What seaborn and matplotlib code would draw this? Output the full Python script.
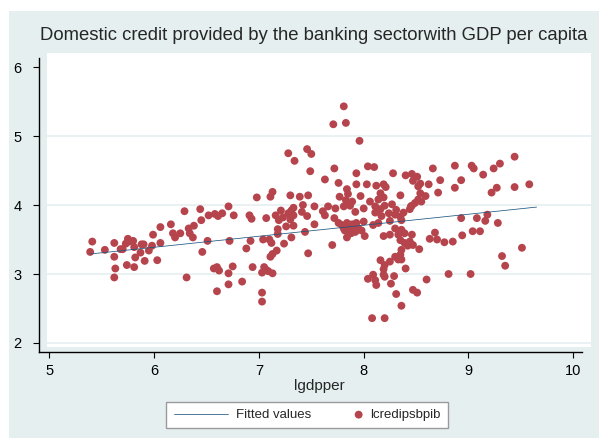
import numpy as np
import pandas as pd
import matplotlib
matplotlib.use("Agg")
import matplotlib.pyplot as plt
from matplotlib.patches import Rectangle
from matplotlib.collections import PathCollection
from matplotlib.legend_handler import HandlerPathCollection
import seaborn as sns

# === Data ===
lgdpper = [
    5.39, 5.41, 5.53, 5.62, 5.62, 5.63, 5.62, 5.68, 5.70, 5.73, 5.75, 5.76, 5.80, 5.81, 5.82, 5.81,
    5.74, 5.87, 5.88, 5.90, 5.91, 5.95, 5.98, 5.99, 6.03, 6.06, 6.06, 6.16, 6.18, 6.20, 6.25, 6.29,
    6.31, 6.33, 6.34, 6.37, 6.38, 6.44, 6.45, 6.46, 6.51, 6.52, 6.58, 6.61, 6.65, 6.57, 6.60, 6.62,
    6.60, 6.71, 6.72, 6.71, 6.71, 6.75, 6.76, 6.84, 6.88, 6.91, 6.92, 6.93, 6.94, 6.98, 7.03, 7.03,
    7.03, 7.05, 7.07, 7.09, 7.13, 7.04, 7.07, 7.10, 7.12, 7.13, 7.11, 7.17, 7.11, 7.13, 7.16, 7.18,
    7.18, 7.19, 7.21, 7.23, 7.24, 7.26, 7.28, 7.30, 7.31, 7.33, 7.33, 7.33, 7.31, 7.28, 7.34, 7.30,
    # middle block
    7.39, 7.47, 7.46, 7.50, 7.49, 7.42, 7.53, 7.41, 7.46, 7.44, 7.53, 7.47, 7.63, 7.61, 7.63, 7.66,
    7.71, 7.81, 7.83, 7.96,
    # right block
    8.87, 8.87, 8.93, 9.03, 9.05, 9.14, 9.24, 9.30, 9.22, 9.27, 9.44, 9.44, 9.58, 8.77, 8.85, 8.81,
    8.94, 9.02, 9.04, 9.11, 8.93, 9.08, 9.16, 9.18, 9.28, 9.32, 9.35, 9.51,
    # dense cluster
    7.72, 8.04, 8.10, 7.93, 8.28, 8.40, 8.46, 8.51, 8.66, 8.73, 7.76, 7.93, 8.03, 8.12, 8.19, 8.21,
    8.47, 8.54, 8.62, 8.52, 7.84, 7.85, 7.97, 8.16, 8.35, 8.54, 8.59, 8.71, 7.77, 7.83, 7.89, 8.06,
    8.14, 8.19, 8.27, 8.52, 8.49, 8.46, 8.44, 8.55, 7.73, 7.81, 7.87, 8.00, 8.11, 8.16, 8.20, 8.31,
    8.38, 8.45, 7.92, 8.11, 8.17, 8.24, 8.35, 8.30, 7.72, 7.76, 7.79, 7.84, 7.89, 7.93, 8.00, 8.09,
    8.14, 8.25, 8.36, 7.81, 7.85, 7.90, 7.95, 7.98, 7.92, 7.88, 7.82, 7.84, 8.01, 8.19, 8.25, 8.30,
    8.36, 8.39, 8.46, 8.33, 7.70, 8.35, 8.39, 8.44, 8.42, 8.47, 8.53, 8.63, 8.68, 8.70, 8.36, 8.35,
    8.33, 8.30, 8.16, 8.25, 8.20, 8.36, 8.19, 8.19, 8.40, 8.09, 8.04, 8.11, 8.12, 8.20, 8.29, 8.26,
    8.60, 8.47, 8.51, 8.31, 8.36, 8.08, 8.20,
]
lcredipsbpib = [
    3.32, 3.47, 3.35, 3.45, 3.25, 3.08, 2.95, 3.36, 3.36, 3.44, 3.51, 3.47, 3.48, 3.39, 3.24, 3.10,
    3.13, 3.31, 3.43, 3.43, 3.19, 3.34, 3.41, 3.57, 3.20, 3.45, 3.68, 3.72, 3.59, 3.53, 3.59, 3.91,
    2.95, 3.66, 3.59, 3.53, 3.70, 3.94, 3.78, 3.32, 3.48, 3.85, 3.87, 3.84, 3.88, 3.08, 3.10, 3.05,
    2.75, 3.98, 3.48, 3.01, 2.85, 3.11, 3.85, 2.89, 3.37, 3.85, 3.48, 3.80, 3.10, 4.11, 2.73, 2.60,
    3.02, 3.10, 3.06, 3.04, 3.01, 3.50, 3.81, 3.50, 3.45, 3.29, 3.25, 3.34, 4.12, 4.19, 3.85, 3.65,
    3.58, 3.78, 3.92, 3.82, 3.44, 3.69, 3.88, 3.79, 3.92, 3.85, 3.96, 3.70, 3.53, 4.75, 4.64, 4.14,
    # middle block
    4.12, 4.14, 4.81, 4.74, 4.49, 4.00, 3.98, 3.90, 3.84, 3.61, 3.72, 3.30, 4.37, 3.91, 3.85, 3.98,
    5.17, 5.43, 5.19, 4.93,
    # right block
    4.57, 4.25, 4.36, 4.57, 4.53, 4.44, 4.53, 4.60, 4.18, 4.25, 4.70, 4.26, 4.30, 3.46, 3.47, 3.00,
    3.56, 3.00, 3.62, 3.62, 3.81, 3.81, 3.77, 3.86, 3.74, 3.26, 3.12, 3.38,
    # dense cluster
    4.53, 4.56, 4.55, 4.46, 4.46, 4.43, 4.45, 4.41, 4.53, 4.36, 4.32, 4.30, 4.30, 4.28, 4.30, 4.26,
    4.35, 4.31, 4.30, 4.27, 4.23, 4.16, 4.13, 4.17, 4.14, 4.17, 4.13, 4.18, 4.12, 4.07, 4.05, 4.05,
    4.08, 4.11, 4.01, 4.08, 4.03, 3.99, 3.94, 4.05, 3.95, 3.98, 3.99, 3.95, 3.98, 3.94, 3.99, 3.93,
    3.89, 3.98, 3.90, 3.89, 3.84, 3.88, 3.83, 3.86, 3.81, 3.74, 3.71, 3.74, 3.72, 3.74, 3.76, 3.71,
    3.74, 3.77, 3.78, 3.66, 3.64, 3.69, 3.66, 3.63, 3.61, 3.59, 3.63, 3.53, 3.55, 3.55, 3.57, 3.66,
    3.64, 3.59, 3.57, 3.57, 3.42, 3.49, 3.45, 3.47, 3.41, 3.42, 3.36, 3.51, 3.60, 3.50, 3.35, 3.28,
    3.21, 3.25, 3.20, 3.18, 3.13, 3.21, 3.07, 2.99, 3.08, 2.99, 2.93, 2.91, 2.84, 2.96, 2.97, 2.86,
    2.92, 2.77, 2.73, 2.71, 2.54, 2.36, 2.36,
]

# fitted line ends, as drawn in the reference
fit_x = [5.39, 9.65]
fit_y = [3.29, 3.97]

xticks = [5, 6, 7, 8, 9, 10]
yticks = [2, 3, 4, 5, 6]

df = pd.DataFrame({"lgdpper": lgdpper, "lcredipsbpib": lcredipsbpib})
fit_df = pd.DataFrame({"lgdpper": fit_x, "fitted": fit_y})

# === Style ===
BG = "#e5eff0"
RED = "#b6444c"
NAVY = "#1d5780"

sns.set_style("white")
plt.rcParams["font.family"] = ["Liberation Sans", "DejaVu Sans"]

fig = plt.figure(figsize=(5.99, 4.38), dpi=100, facecolor="white")
fig.patches.append(Rectangle((9 / 599, 0), 590 / 599, 427 / 438, transform=fig.transFigure,
                             facecolor=BG, edgecolor="none", zorder=-10))
ax = fig.add_axes([47 / 599, 91 / 438, 544 / 599, 294 / 438])
ax.set_facecolor("white")

sns.lineplot(data=fit_df, x="lgdpper", y="fitted", ax=ax, color=NAVY, lw=0.55,
             label="Fitted values", zorder=3)
sns.scatterplot(data=df, x="lgdpper", y="lcredipsbpib", ax=ax, color=RED, s=32,
                edgecolor="none", label="lcredipsbpib", zorder=2)

ax.set_xlim(4.978, 10.169)
ax.set_ylim(1.942, 6.203)
ax.set_xticks(xticks)
ax.set_yticks(yticks)

# horizontal grid like Stata (no line at the top tick)
for yv in yticks[:-1]:
    ax.axhline(yv, color=BG, lw=1.2, zorder=0)

for side in ["top", "right"]:
    ax.spines[side].set_visible(False)
ax.spines["left"].set_position(("outward", 5.8))
ax.spines["bottom"].set_position(("outward", 3.6))
ax.spines["left"].set_bounds(1.87, 6.13)
ax.spines["bottom"].set_bounds(4.90, 10.08)
for side in ["left", "bottom"]:
    ax.spines[side].set_color("black")
    ax.spines[side].set_linewidth(1.0)

ax.tick_params(axis="both", direction="out", length=4.3, width=0.8, colors="black",
               labelsize=10.5, left=True, bottom=True)
ax.tick_params(axis="y", pad=8)
ax.tick_params(axis="x", pad=4)

ax.set_xlabel("lgdpper", fontsize=11, labelpad=1)
ax.set_ylabel("")

fig.text(314 / 599, 1 - 35 / 438,
         "Domestic credit provided by the banking sectorwith GDP per capita",
         ha="center", va="center", fontsize=13.3)

handles, labels = ax.get_legend_handles_labels()
ax.legend_.remove()
fig.legend(handles, labels, loc="center", bbox_to_anchor=(307 / 599, 1 - 415 / 438),
           ncol=2, frameon=True, fancybox=False, edgecolor="#9a9a9a", framealpha=1,
           fontsize=9.5, handlelength=4.1, handletextpad=0.6, columnspacing=-0.24,
           borderpad=0.55,
           handler_map={PathCollection: HandlerPathCollection(xpad=3.6)})

plt.savefig("out.png", dpi=100, facecolor=fig.get_facecolor())
